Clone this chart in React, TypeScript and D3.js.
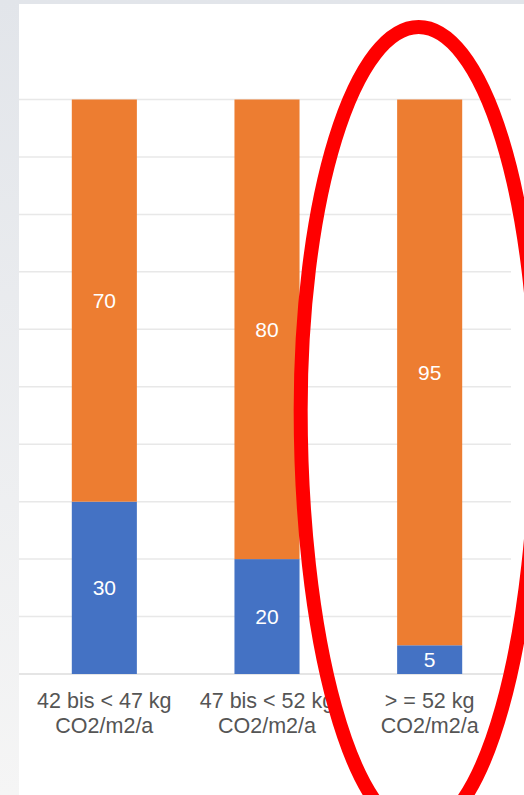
import * as d3 from "d3";

const width = 524;
const height = 795;

// data
const categories = ["42 bis < 47 kg|CO2/m2/a", "47 bis < 52 kg|CO2/m2/a", "> = 52 kg|CO2/m2/a"];
const lowShare = [30, 20, 5];
const highShare = [70, 80, 95];
const yTicks = d3.range(0, 101, 10);

const BLUE = "#4472c4";
const ORANGE = "#ed7d31";
const font = "'Liberation Sans', Arial, Helvetica, sans-serif";

export default function App() {
  const x = d3.scaleBand<string>().domain(categories).range([23, 511]).paddingInner(0.6).paddingOuter(0.3);
  const y = d3.scaleLinear().domain([0, 100]).range([674, 99.5]);

  const stack = d3.stack<number>().keys(["low", "high"]).value((i, key) => (key === "low" ? lowShare[i] : highShare[i]));
  const series = stack(d3.range(categories.length));
  const colors = [BLUE, ORANGE];

  // highlight ellipse around the last bar (egg shaped: top and bottom halves differ)
  const last = categories[categories.length - 1];
  const cx = (x(last) ?? 0) + x.bandwidth() / 2 - 11;
  const cy = 410;
  const rx = 118;
  const ryTop = 383;
  const ryBot = 421;
  const ellipse = `M${cx - rx},${cy} A${rx},${ryTop} 0 0 1 ${cx + rx},${cy} A${rx},${ryBot} 0 0 1 ${cx - rx},${cy} Z`;

  return (
    <svg width={width} height={height} style={{ position: "absolute", left: 0, top: 0, display: "block" }}>
      <defs>
        <linearGradient id="bg" x1="0" y1="0" x2="0" y2="1">
          <stop offset="0" stopColor="#e2e5ea" />
          <stop offset="1" stopColor="#f5f5f5" />
        </linearGradient>
      </defs>
      <rect width={width} height={height} fill="url(#bg)" />
      <rect x={19} y={4} width={width - 19} height={height - 4} fill="#ffffff" />

      {yTicks.map((t) => (
        <line key={t} x1={19} x2={511} y1={y(t)} y2={y(t)} stroke={t === 0 ? "#dcdcdc" : "#e8e8e8"} strokeWidth={1.5} />
      ))}

      {series.map((s, si) => (
        <g key={s.key} fill={colors[si]}>
          {s.map((d, i) => (
            <rect key={i} x={x(categories[i])} width={x.bandwidth()} y={y(d[1])} height={y(d[0]) - y(d[1])} />
          ))}
        </g>
      ))}

      {series.map((s) =>
        s.map((d, i) => (
          <text
            key={s.key + i}
            x={(x(categories[i]) ?? 0) + x.bandwidth() / 2}
            y={(y(d[0]) + y(d[1])) / 2}
            dy="0.36em"
            textAnchor="middle"
            fill="#ffffff"
            fontFamily={font}
            fontSize={21}
          >
            {d[1] - d[0]}
          </text>
        ))
      )}

      {categories.map((c) => (
        <text key={c} x={(x(c) ?? 0) + x.bandwidth() / 2} y={708} textAnchor="middle" fill="#555555" fontFamily={font} fontSize={21.5}>
          {c.split("|").map((line, li) => (
            <tspan key={li} x={(x(c) ?? 0) + x.bandwidth() / 2} dy={li === 0 ? 0 : 25}>
              {line}
            </tspan>
          ))}
        </text>
      ))}

      <path d={ellipse} fill="none" stroke="#ff0000" strokeWidth={14} />
    </svg>
  );
}
